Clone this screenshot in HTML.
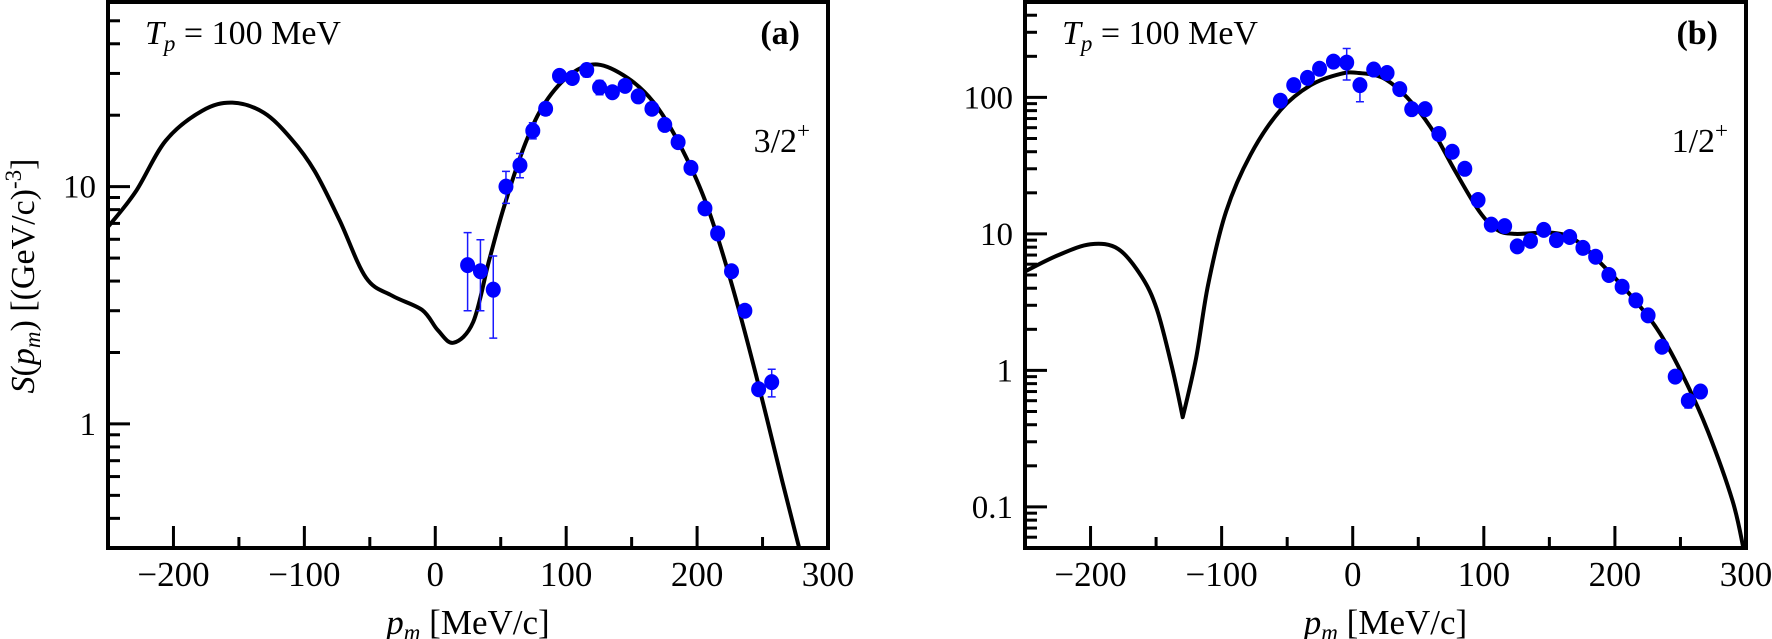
<!DOCTYPE html>
<html><head><meta charset="utf-8">
<style>
html,body{margin:0;padding:0;background:#fff;}
svg{display:block;}
text{font-family:"Liberation Serif","DejaVu Serif",serif;fill:#000;}
</style></head>
<body>
<svg id="chart" width="1772" height="639" viewBox="0 0 1772 639" xmlns="http://www.w3.org/2000/svg"></svg>
<script>
const xTicks = [-200, -100, 0, 100, 200, 300];
const aYTicks = [1, 10];
const bYTicks = [0.1, 1, 10, 100];
const aPtsX = [24.7,34.5,44.3,54,64.7,74.5,84.3,94.9,104.7,115.7,125.5,135.3,145,155,165.5,175.3,185.5,195.3,206,215.7,226.3,236.5,247,257];
const aPtsY = [4.67,4.4,3.68,10,12.3,17.2,21.3,29.3,28.7,31,26.2,25,26.6,24,21.3,18.2,15.4,12,8.1,6.35,4.4,3.0,1.4,1.5];
const aErrHi = [6.4,5.97,5.1,11.6,13.8,18.6,22.6,31,30.5,33,28,26.2,27.8,25,22.2,19,16,12.5,8.4,6.6,4.6,3.1,1.45,1.7];
const aErrLo = [3.0,3.0,2.3,8.5,10.9,15.9,20,27.6,27,29,24.4,23.8,25.4,23,20.4,17.4,14.8,11.5,7.8,6.1,4.2,2.9,1.35,1.3];
const aCurveX = [-251,-229,-206,-178,-155,-131,-110,-92,-73,-53,-33,-10,2,14,29,41,53,69,84,104,124,147,167,186,206,225,245,265,278];
const aCurveY = [6.66,9.5,15.6,20.9,22.6,20.5,15.9,11.6,7.2,4.14,3.47,3.02,2.48,2.2,2.69,4.85,8.4,15.3,22.6,29.9,32.7,28.7,22.6,15.3,8.78,4.14,1.61,0.575,0.3];
const bPtsX = [-55.2,-45,-34.5,-25.3,-14.7,-4.6,5.5,16,26.2,35.9,45,55.2,65.7,75.9,85.5,95.6,105.7,115.9,125.5,135.6,145.7,155.4,165.5,175.6,185.3,195.4,205.5,216,225.3,235.9,246,256,265.3];
const bPtsY = [94.6,123,139,162,183,180,123,160,151,115,82,82,54,40,30,17.7,11.7,11.4,8.1,8.9,10.7,9.0,9.5,7.9,6.8,5.0,4.1,3.26,2.53,1.49,0.90,0.60,0.70];
const bErrHi = [97,126,142,166,188,228,130,164,155,118,84,84,55,41,31,18.1,12,11.7,8.3,9.1,11,9.2,9.7,8.1,7,5.1,4.2,3.35,2.6,1.53,0.93,0.66,0.76];
const bErrLo = [92,120,136,158,178,134,93,156,147,112,80,80,53,39,29,17.3,11.4,11.1,7.9,8.7,10.4,8.8,9.3,7.7,6.6,4.9,4.0,3.17,2.46,1.45,0.87,0.53,0.65];
const bCurveX = [-250.6,-225.3,-200,-179,-161,-149.4,-138,-129.7,-119.5,-110.3,-96.6,-78,-55,-32,-9,4.6,23,41.4,59.8,78,96.6,110.3,124,151.7,170,193,216,234.5,253,271,289.7,298];
const bCurveY = [5.27,6.95,8.4,7.76,4.86,2.8,1.07,0.454,1.23,4.24,14.6,38,81,123,149,151,139,100,59.7,29,14.6,10.7,10,10.2,9.0,5.6,3.2,1.86,0.87,0.356,0.111,0.05];

const NS = "http://www.w3.org/2000/svg";
const svg = document.getElementById('chart');
function mk(tag, attrs, parent) {
  const e = document.createElementNS(NS, tag);
  for (const k in attrs) e.setAttribute(k, attrs[k]);
  (parent || svg).appendChild(e);
  return e;
}
function smoothPath(pts, sharpIdx) {
  let d = 'M' + pts[0][0].toFixed(1) + ',' + pts[0][1].toFixed(1);
  for (let i = 0; i < pts.length - 1; i++) {
    const p0 = pts[Math.max(0, i - 1)], p1 = pts[i], p2 = pts[i + 1], p3 = pts[Math.min(pts.length - 1, i + 2)];
    const t1 = (sharpIdx.includes(i)) ? 0 : 1 / 6, t2 = (sharpIdx.includes(i + 1)) ? 0 : 1 / 6;
    const c1x = p1[0] + (p2[0] - p0[0]) * t1, c1y = p1[1] + (p2[1] - p0[1]) * t1;
    const c2x = p2[0] - (p3[0] - p1[0]) * t2, c2y = p2[1] - (p3[1] - p1[1]) * t2;
    d += ' C' + c1x.toFixed(1) + ',' + c1y.toFixed(1) + ' ' + c2x.toFixed(1) + ',' + c2y.toFixed(1) + ' ' + p2[0].toFixed(1) + ',' + p2[1].toFixed(1);
  }
  return d;
}

function drawPanel(p) {
  const g = mk('g', {});
  
  
  const sx = v => p.x0 + (v - (-250)) / 550 * (p.x1 - p.x0);
  const ly0 = Math.log10(p.ymin), ly1 = Math.log10(p.ymax);
  const sy = v => p.y1 - (Math.log10(v) - ly0) / (ly1 - ly0) * (p.y1 - p.y0);

  const clipId = 'clip-' + p.name;
  const cp = mk('clipPath', {id: clipId}, g);
  mk('rect', {x: p.x0, y: p.y0, width: p.x1 - p.x0, height: p.y1 - p.y0}, cp);

  for (let v = -200; v <= 250; v += 50) {
    const major = v % 100 === 0;
    const t = mk('line', {x1: sx(v), x2: sx(v), y1: p.y1, y2: p.y1 - (major ? 22 : 11), stroke: '#000', 'stroke-width': 3}, g);
    
    
  }
  xTicks.forEach(v => {
    const t = mk('text', {x: sx(v), y: 586, 'font-size': 35, 'text-anchor': 'middle'}, g);
    
    
    t.textContent = (v < 0 ? '\u2212' + (-v) : String(v));
  });
  for (let d = Math.floor(ly0); d <= Math.ceil(ly1); d++) {
    for (let m = 1; m <= 9; m++) {
      const v = m * Math.pow(10, d);
      if (v < p.ymin * 0.999 || v > p.ymax * 1.001) continue;
      const t = mk('line', {x1: p.x0, x2: p.x0 + (m === 1 ? 22 : 12), y1: sy(v), y2: sy(v), stroke: '#000', 'stroke-width': 3}, g);
      
      
    }
  }
  p.yTicks.forEach(v => {
    const t = mk('text', {x: p.x0 - 12, y: sy(v) + 11, 'font-size': 33, 'text-anchor': 'end'}, g);
    
    
    t.textContent = String(v);
  });

  const pts = p.cx.map((v, i) => [sx(v), sy(p.cy[i])]);
  const c = mk('path', {d: smoothPath(pts, p.sharp), fill: 'none', stroke: '#000', 'stroke-width': 4, 'stroke-linejoin': 'round', 'clip-path': 'url(#' + clipId + ')'}, g);
  
  

  p.px.forEach((v, i) => {
    const X = sx(v), hi = sy(p.eh[i]), lo = sy(p.el[i]);
    const eb = mk('path', {d: `M${X},${hi} V${lo} M${X-4},${hi} H${X+4} M${X-4},${lo} H${X+4}`, stroke: '#1a1aff', 'stroke-width': 1.5, fill: 'none'}, g);
    
    
    const dot = mk('ellipse', {cx: X, cy: sy(p.py[i]), rx: 7.5, ry: 8, fill: '#0000ff'}, g);
    
    
  });

  const fr = mk('rect', {x: p.x0, y: p.y0, width: p.x1 - p.x0, height: p.y1 - p.y0, fill: 'none', stroke: '#000', 'stroke-width': 4}, g);
  
  

  const tp = mk('text', {x: p.x0 + 37, y: 44, 'font-size': 34, 'xml:space': 'preserve'}, g);
  
  
  tp.innerHTML = '<tspan font-style="italic">T</tspan><tspan font-style="italic" font-size="23" dy="7">p</tspan><tspan dy="-7">  =  100 MeV</tspan>';
  const pl = mk('text', {x: p.x1 - 28, y: 44, 'font-size': 34, 'font-weight': 'bold', 'text-anchor': 'end'}, g);
  
  
  pl.textContent = p.label;
  const st = mk('text', {x: p.x1 - 18, y: 152, 'font-size': 34, 'text-anchor': 'end'}, g);
  
  
  st.innerHTML = p.state + '<tspan font-size="23" dy="-14">+</tspan>';
  const xt = mk('text', {x: (p.x0 + p.x1) / 2, y: 634, 'font-size': 35, 'text-anchor': 'middle', 'xml:space': 'preserve'}, g);
  
  
  xt.innerHTML = '<tspan font-style="italic">p</tspan><tspan font-style="italic" font-size="23" dy="6">m</tspan><tspan dy="-6"> [MeV/c]</tspan>';
}

drawPanel({name: 'panel-a', x0: 108, x1: 828, y0: 2, y1: 548, ymin: 0.3, ymax: 60, yTicks: aYTicks,
  px: aPtsX, py: aPtsY, eh: aErrHi, el: aErrLo, cx: aCurveX, cy: aCurveY, label: '(a)', state: '3/2', sharp: []});
drawPanel({name: 'panel-b', x0: 1025, x1: 1746, y0: 2, y1: 548, ymin: 0.05, ymax: 500, yTicks: bYTicks,
  px: bPtsX, py: bPtsY, eh: bErrHi, el: bErrLo, cx: bCurveX, cy: bCurveY, label: '(b)', state: '1/2', sharp: [7]});

const yt = mk('text', {x: 0, y: 0, 'font-size': 34, 'text-anchor': 'middle', 'xml:space': 'preserve', transform: 'translate(34,276) rotate(-90)'});


yt.innerHTML = '<tspan font-style="italic">S</tspan>(<tspan font-style="italic">p</tspan><tspan font-style="italic" font-size="23" dy="6">m</tspan><tspan dy="-6">)  [(GeV/c)</tspan><tspan font-size="23" dy="-13">-3</tspan><tspan dy="13">]</tspan>';
</script>
</body></html>
